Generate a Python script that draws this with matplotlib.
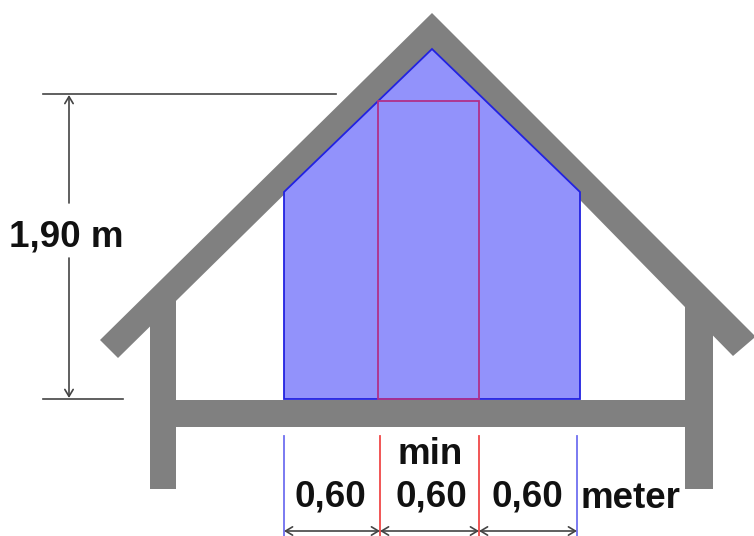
import matplotlib
matplotlib.use("Agg")
import matplotlib.pyplot as plt
from matplotlib.patches import Polygon

W, H = 754, 536
GREY = "#808080"

roof_x = [100, 432, 754, 754, 733, 432, 118]
roof_y = [340, 13, 335, 338, 356, 49, 358]
left_wall_x = [150, 176, 176, 150]
left_wall_y = [300, 280, 489, 489]
right_wall_x = [685, 713, 713, 685]
right_wall_y = [285, 305, 489, 489]
floor_x = [150, 713, 713, 150]
floor_y = [400, 400, 427, 427]
room_x = [284, 432, 580, 580, 284]
room_y = [192, 49, 192, 399, 399]
inner_x = [378, 479, 479, 378]
inner_y = [101, 101, 399, 399]

labels = [("1,90 m", 66, 237), ("min", 430, 454), ("0,60", 330, 497),
          ("0,60", 431, 497), ("0,60", 527, 497), ("meter", 630, 498)]
guides_blue = [284, 577]
guides_red = [380, 479]
width_ticks = [284, 380, 479, 577]

fig = plt.figure(figsize=(W / 100, H / 100), dpi=100)
ax = fig.add_axes([0, 0, 1, 1])
ax.set_xlim(0, W)
ax.set_ylim(H, 0)
ax.axis("off")

for xs, ys in [(roof_x, roof_y), (left_wall_x, left_wall_y),
               (right_wall_x, right_wall_y), (floor_x, floor_y)]:
    ax.add_patch(Polygon(list(zip(xs, ys)), closed=True, fc=GREY, ec="none", zorder=2))
ax.add_patch(Polygon(list(zip(room_x, room_y)), closed=True, fc="#9292fb",
                     ec="#2222e0", lw=1.3, zorder=3))
ax.add_patch(Polygon(list(zip(inner_x, inner_y)), closed=True, fc="none",
                     ec="#b0308a", lw=1.3, zorder=4))

LINE = "#444444"
ax.plot([43, 336], [94, 94], color=LINE, lw=1.2, zorder=5)
ax.plot([43, 123], [399, 399], color=LINE, lw=1.2, zorder=5)
arrow = dict(arrowstyle="->,head_length=0.5,head_width=0.3", color=LINE, lw=1.2,
             shrinkA=0, shrinkB=0)
ax.annotate("", xy=(69, 95), xytext=(69, 203), arrowprops=arrow, zorder=5)
ax.annotate("", xy=(69, 398), xytext=(69, 258), arrowprops=arrow, zorder=5)

for x in guides_blue:
    ax.plot([x, x], [436, 536], color="#7070f0", lw=1.3, zorder=5)
for x in guides_red:
    ax.plot([x, x], [436, 536], color="#f04848", lw=1.3, zorder=5)
dim = dict(arrowstyle="<->,head_length=0.5,head_width=0.3", color=LINE, lw=1.2,
           shrinkA=0, shrinkB=0)
for a, b in zip(width_ticks[:-1], width_ticks[1:]):
    ax.annotate("", xy=(a, 531), xytext=(b, 531), arrowprops=dim, zorder=5)

for s, x, y in labels:
    ax.text(x, y, s, ha="center", va="center", fontsize=26.5, fontweight="bold",
            family="Liberation Sans", color="#111111", zorder=6)

fig.savefig("out.png", dpi=100)
